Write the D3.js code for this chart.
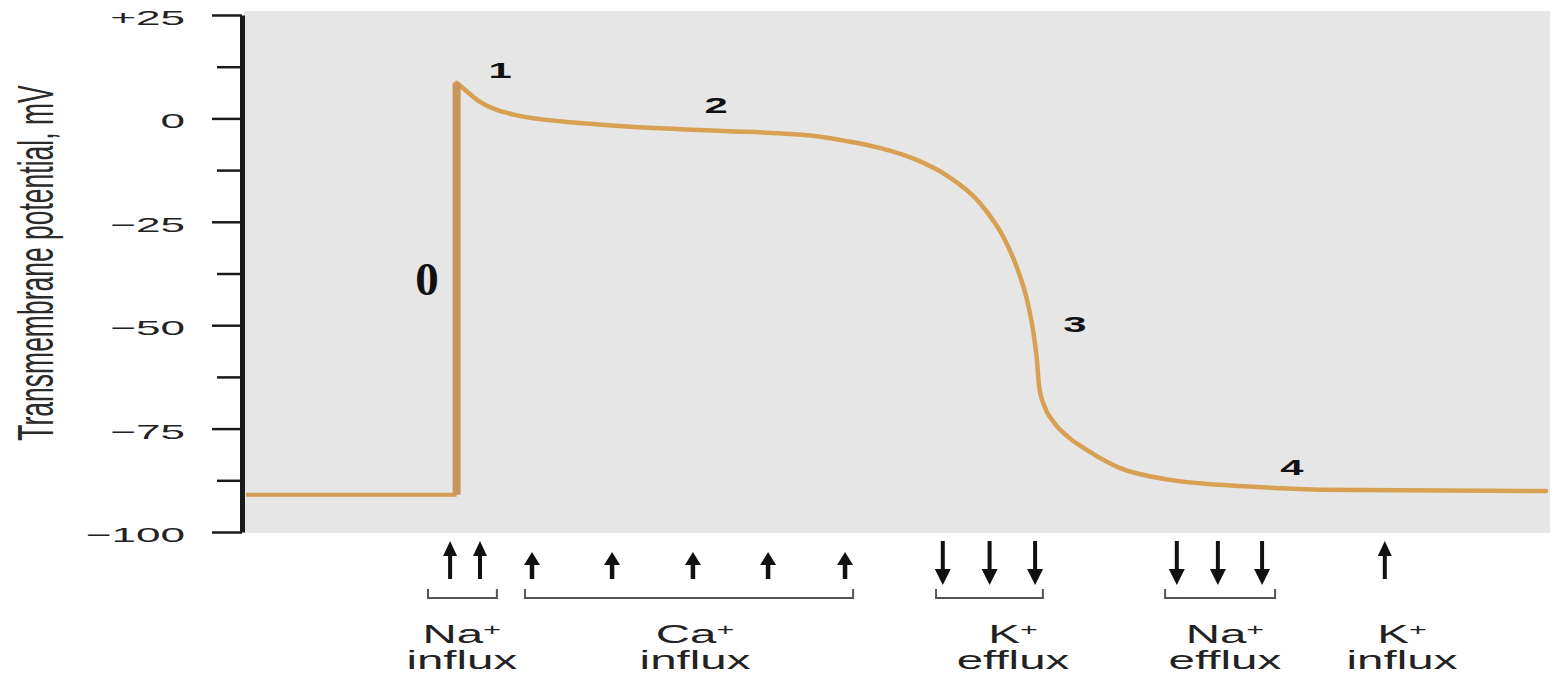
<!DOCTYPE html>
<html>
<head>
<meta charset="utf-8">
<script src="https://cdn.jsdelivr.net/npm/d3@7"></script>
<style>
  body { margin: 0; background: #fff; }
  svg { display: block; }
</style>
</head>
<body>
<svg id="chart" width="1554" height="676"></svg>
<script>
// Ventricular action potential: time (ms) vs transmembrane potential (mV)
const timeMs = [0, 81, 81, 83.5, 90, 103, 128.5, 148, 167, 186, 205, 218, 231, 244, 257, 270, 282.3, 291.9, 296.9, 300.4, 302.7, 304.2, 305.0, 306.9, 310.4, 316.2, 323.5, 336, 355.5, 374.5, 394, 413, 500];
const potentialMv = [-91, -91, 8.6, 7.3, 4.0, 0.9, -1.1, -2.0, -2.6, -3.1, -3.6, -4.2, -5.5, -7.2, -9.8, -14.0, -20.5, -29.4, -36.7, -43.9, -51.2, -58.4, -64.5, -69.3, -73.2, -77.0, -80.2, -84.5, -87.4, -88.6, -89.3, -89.8, -90.1];

// Y axis ticks
const yMajorTicks = [25, 0, -25, -50, -75, -100];
const yTickLabels = ["+25", "0", "\u221225", "\u221250", "\u221275", "\u2212100"];
const yMinorTicks = [12.5, -12.5, -37.5, -62.5, -87.5];

// Phase labels (time, potential at label baseline)
const phaseNames = ["0", "1", "2", "3", "4"];
const phaseTime = [69.6, 97.7, 180.8, 318.8, 402.3];
const phaseMv = [-42.7, 9.8, 1.3, -51.6, -86.2];

// Ion currents shown below the trace
const fluxIon = ["Na", "Ca", "K", "Na", "K"];
const fluxWord = ["influx", "influx", "efflux", "efflux", "influx"];
const fluxCenter = [83, 172.7, 295, 376.5, 444.6];
const fluxArrowTimes = [[78.5, 90], [110, 140.8, 171.9, 200.8, 230.4], [268, 286, 303.5], [358, 373.8, 390.8], [438]];
const fluxBracket = [[70, 96.5], [107.3, 233.5], [265.4, 306.5], [353.5, 395.8], null];

const svg = d3.select("#chart");
const x = d3.scaleLinear().domain([0, 500]).range([246, 1546]);
const y = d3.scaleLinear().domain([-100, 25]).range([532, 15]);
const sans = "'Liberation Sans', Arial, sans-serif";

// plot background
svg.append("rect")
  .attr("x", 244).attr("y", 11)
  .attr("width", 1550 - 244).attr("height", 533 - 11)
  .attr("fill", "#e6e6e6");

// y axis: major ticks with labels
const gy = svg.append("g")
  .attr("transform", "translate(242,0)")
  .call(d3.axisLeft(y).tickValues(yMajorTicks).tickSize(30).tickSizeOuter(0)
    .tickFormat((d, i) => yTickLabels[i]))
  .attr("font-family", sans)
  .attr("font-size", 21);
gy.select(".domain").attr("stroke", "#1a1a1a").attr("stroke-width", 5);
gy.selectAll(".tick line").attr("stroke", "#1a1a1a").attr("stroke-width", 2.5);
gy.selectAll(".tick text")
  .attr("x", 0).attr("dy", "0.36em")
  .attr("text-anchor", "end")
  .attr("fill", "#222")
  .attr("transform", "translate(-57,2) scale(2.1,1)");

// y axis: minor ticks
const gm = svg.append("g")
  .attr("transform", "translate(242,0)")
  .call(d3.axisLeft(y).tickValues(yMinorTicks).tickSize(25).tickSizeOuter(0).tickFormat(""));
gm.select(".domain").remove();
gm.selectAll(".tick line").attr("stroke", "#1a1a1a").attr("stroke-width", 2.5);

// y axis title
svg.append("text")
  .attr("transform", "translate(53,263) scale(1.9,1) rotate(-90)")
  .attr("text-anchor", "middle")
  .attr("font-family", sans)
  .attr("font-size", 26.5)
  .attr("fill", "#2a2a2a")
  .text("Transmembrane potential, mV");

// action potential trace
const pts = timeMs.map((t, i) => [t, potentialMv[i]]);
const linear = d3.line().x(d => x(d[0])).y(d => y(d[1]));
const smooth = d3.line().x(d => x(d[0])).y(d => y(d[1])).curve(d3.curveMonotoneX);

svg.append("path")
  .attr("d", linear(pts.slice(0, 2)))
  .attr("fill", "none").attr("stroke", "#d39b55").attr("stroke-width", 4);
svg.append("path")
  .attr("d", smooth(pts.slice(2)))
  .attr("fill", "none").attr("stroke", "#d8a052").attr("stroke-width", 4.5)
  .attr("stroke-linecap", "round");
svg.append("path")
  .attr("d", linear(pts.slice(1, 3)))
  .attr("fill", "none").attr("stroke", "#c9955a").attr("stroke-width", 8);

// phase numbers
phaseNames.forEach((name, i) => {
  const t = svg.append("text")
    .attr("text-anchor", "middle")
    .attr("fill", "#111")
    .text(name);
  if (name === "0") {
    t.attr("x", x(phaseTime[i])).attr("y", y(phaseMv[i]))
      .attr("font-family", "'Liberation Serif', 'Times New Roman', serif")
      .attr("font-weight", "bold").attr("font-size", 47);
  } else {
    t.attr("transform", `translate(${x(phaseTime[i])},${y(phaseMv[i])}) scale(1.9,1)`)
      .attr("font-family", sans)
      .attr("font-weight", "bold").attr("font-size", 22);
  }
});

// arrows, brackets and ion labels
function arrow(cx, yTail, yTip, headW, headL, shaftW) {
  const dir = yTip < yTail ? 1 : -1;
  const yBase = yTip + dir * headL;
  return `M${cx - shaftW / 2},${yTail} L${cx - shaftW / 2},${yBase} L${cx - headW / 2},${yBase}` +
    ` L${cx},${yTip} L${cx + headW / 2},${yBase} L${cx + shaftW / 2},${yBase} L${cx + shaftW / 2},${yTail} Z`;
}

const g = svg.append("g").attr("font-family", sans);
fluxIon.forEach((ion, i) => {
  const inward = fluxWord[i] === "influx";
  fluxArrowTimes[i].forEach(t => {
    let d;
    if (!inward) d = arrow(x(t), 541, 585, 16, 16, 4);
    else if (ion === "Ca") d = arrow(x(t), 579, 552, 16, 13, 4.5);
    else d = arrow(x(t), 579, 541, 14, 15, 4);
    g.append("path").attr("d", d).attr("fill", "#111");
  });
  if (fluxBracket[i]) {
    const [a, b] = fluxBracket[i];
    g.append("path")
      .attr("d", `M${x(a)},589 V598 H${x(b)} V589`)
      .attr("fill", "none").attr("stroke", "#555").attr("stroke-width", 2);
  }
  const cx = x(fluxCenter[i]);
  const l1 = g.append("text")
    .attr("transform", `translate(${cx},643) scale(1.9,1)`)
    .attr("text-anchor", "middle").attr("font-size", 25).attr("fill", "#222");
  l1.append("tspan").text(ion);
  l1.append("tspan").attr("font-size", 16).attr("dy", -8).text("+");
  g.append("text")
    .attr("transform", `translate(${cx},669) scale(1.9,1)`)
    .attr("text-anchor", "middle").attr("font-size", 25).attr("fill", "#222")
    .text(fluxWord[i]);
});
</script>
</body>
</html>
